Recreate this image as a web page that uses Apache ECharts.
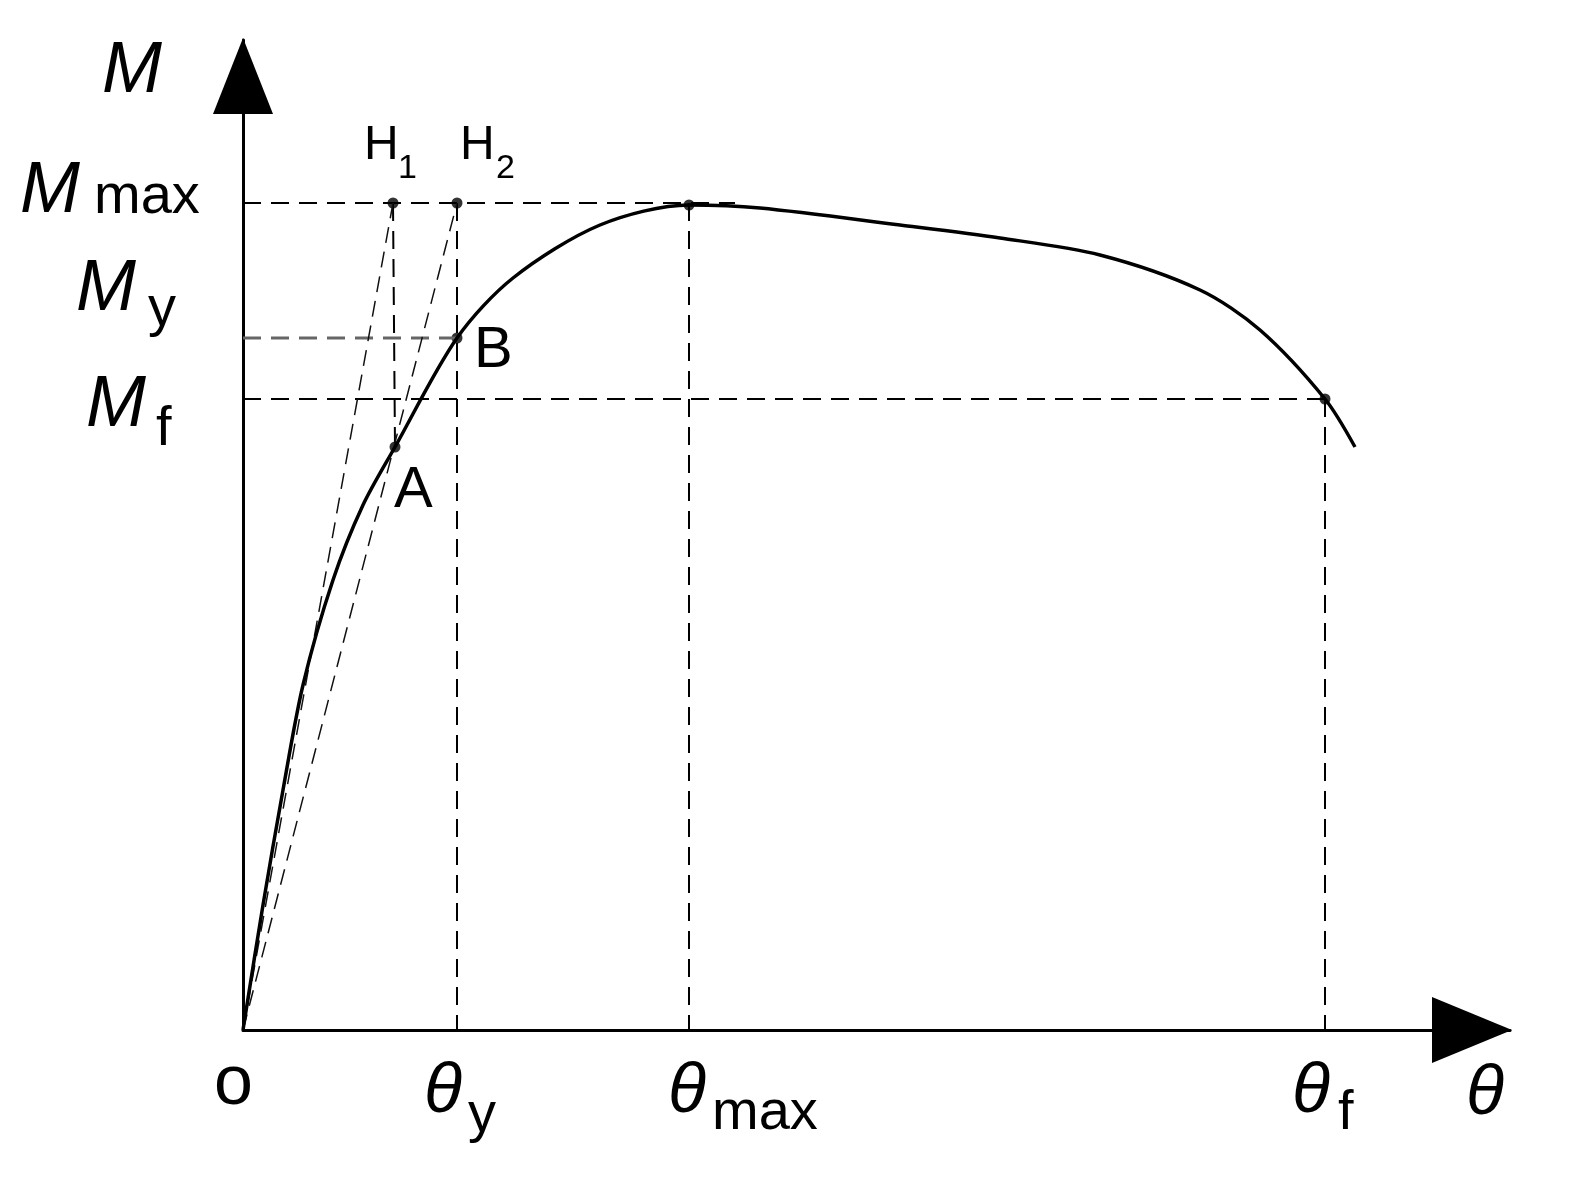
<!DOCTYPE html>
<html>
<head>
    <meta charset="utf-8">
    <title>M-θ curve</title>
    <script src="https://cdn.jsdelivr.net/npm/echarts@6/dist/echarts.min.js"></script>
    <style>body{margin:0;background:#fff}</style>
</head>
<body>
    <div id="main" style="width:1579px; height:1193px;"></div>
    <script>
        // curve points (θ, M) in drawing units, origin at 0
        var curveTheta = [0, 20, 40, 60, 90, 120, 152, 214, 270, 357, 446, 517, 657, 757, 857, 957, 1017, 1082, 1112]
        var curveM = [0, 125, 240, 345, 450, 525, 583, 692, 752, 805, 825, 822, 805, 792, 775, 740, 700, 631, 583]

        var thetaY = 214, thetaMax = 446, thetaF = 1082
        var mMax = 827, mY = 692, mF = 631
        var pointA = [152, 583]
        var pointH1 = [150, 827]
        var pointH2 = [214, 827]

        var myChart = echarts.init(document.querySelector('#main'))

        var curve = curveTheta.map(function(t, i) { return [t, curveM[i]] })

        var dash = function(data, color, w, type) {
            return {
                type: 'line', data: data, symbol: 'none', silent: true,
                lineStyle: {color: color || '#000', width: w || 2, type: type || [18, 10]}
            }
        }

        var dots = [pointH1, pointH2, [thetaY, mY], pointA, [thetaMax, mMax - 2], [thetaF, mF]]

        var option = {
            animation: false,
            grid: {left: 243, right: 69, top: 40, bottom: 163},
            xAxis: {
                type: 'value', min: 0, max: 1267,
                axisLine: {lineStyle: {color: '#000', width: 3}, symbol: ['none', 'triangle'], symbolSize: [66, 80], symbolOffset: [0, -38]},
                axisTick: {show: false}, axisLabel: {show: false}, splitLine: {show: false}
            },
            yAxis: {
                type: 'value', min: 0, max: 990,
                axisLine: {lineStyle: {color: '#000', width: 3}, symbol: ['none', 'triangle'], symbolSize: [60, 76], symbolOffset: [0, -36]},
                axisTick: {show: false}, axisLabel: {show: false}, splitLine: {show: false}
            },
            series: [
                dash([[0, mMax], [492, mMax]]),
                dash([[0, mY], [thetaY, mY]], '#666', 3),
                dash([[0, mF], [thetaF, mF]]),
                dash([[thetaY, mMax], [thetaY, 0]]),
                dash([[thetaMax, mMax], [thetaMax, 0]]),
                dash([[thetaF, mF], [thetaF, 0]]),
                dash([pointH1, pointA]),
                dash([[0, 0], pointH1], '#111', 1.5, [16, 9]),
                dash([[0, 0], pointH2], '#111', 1.5, [16, 9]),
                {
                    type: 'line', data: curve, smooth: 0.3, symbol: 'none', silent: true,
                    lineStyle: {color: '#000', width: 3.5}
                },
                {
                    type: 'scatter', data: dots, symbolSize: 11, silent: true,
                    itemStyle: {color: '#000'}
                }
            ],
            graphic: (function() {
                var f = 'Liberation Sans, Arial, sans-serif'
                var t = function(x, y, s, size, italic) {
                    return {type: 'text', left: x, top: y, silent: true,
                        style: {text: s, font: (italic ? 'italic ' : '') + size + 'px ' + f, fill: '#000'}}
                }
                return [
                    t(102, 36, 'M', 72, true),
                    t(20, 156, 'M', 72, true), t(94, 170, 'max', 56),
                    t(76, 254, 'M', 72, true), t(148, 282, 'y', 56),
                    t(86, 370, 'M', 72, true), t(156, 402, 'f', 56),
                    t(364, 122, 'H', 48), t(398, 152, '1', 34),
                    t(460, 122, 'H', 48), t(496, 152, '2', 34),
                    t(474, 322, 'B', 58), t(394, 462, 'A', 58),
                    t(214, 1050, 'o', 70),
                    t(424, 1058, 'θ', 70, true), t(468, 1088, 'y', 56),
                    t(668, 1058, 'θ', 70, true), t(712, 1086, 'max', 56),
                    t(1292, 1058, 'θ', 70, true), t(1338, 1086, 'f', 56),
                    t(1466, 1060, 'θ', 70, true)
                ]
            })()
        }
        myChart.setOption(option)
    </script>
</body>
</html>
